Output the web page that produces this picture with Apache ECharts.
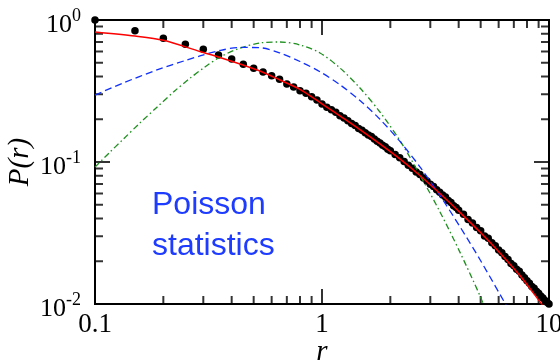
<!DOCTYPE html>
<html>
<head>
<meta charset="utf-8">
<script src="https://cdn.jsdelivr.net/npm/echarts@6/dist/echarts.min.js"></script>
</head>
<body style="margin:0">
<div id="chart" style="width:560px;height:361px"></div>
<script>
// measured points (dots)
const dotR = [0.1,0.15,0.2,0.25,0.3,0.35,0.4,0.45,0.5,0.55,0.6,0.65,0.7,0.75,0.8,0.85,0.9,0.95,1.0,1.05,
  1.1,1.15,1.2,1.25,1.3,1.35,1.4,1.45,1.5,1.55,1.6,1.65,1.7,1.75,1.8,1.85,1.9,1.95,2.0,
  2.1,2.2,2.3,2.4,2.5,2.6,2.7,2.8,2.9,3.0,3.1,3.2,3.3,3.4,3.5,3.6,3.7,3.8,3.9,4.0,
  4.2,4.4,4.6,4.8,5.0,5.2,5.4,5.6,5.8,6.0,6.2,6.4,6.6,6.8,7.0,7.2,7.4,7.6,7.8,8.0,
  8.2,8.4,8.6,8.8,9.0,9.2,9.4,9.6,9.8,10.0]
const dotP = [1.0,0.84,0.743,0.674,0.622,0.567,0.531,0.488,0.457,0.430,0.405,0.382,0.354,0.337,0.318,0.305,0.288,0.273,0.256,0.243,
  0.233,0.224,0.212,0.204,0.195,0.187,0.181,0.172,0.167,0.161,0.155,0.151,0.145,0.140,0.136,0.131,0.128,0.123,0.120,
  0.113,0.107,0.101,0.0948,0.0905,0.0851,0.0815,0.0770,0.0736,0.0698,0.0672,0.0638,0.0613,0.0585,0.0566,0.0536,0.0518,0.0492,0.0478,0.0458,
  0.0428,0.0394,0.0372,0.0346,0.0328,0.0301,0.0290,0.0270,0.0257,0.0240,0.0230,0.0216,0.0206,0.0193,0.0186,0.0176,0.0170,0.0160,0.0153,0.0146,
  0.0140,0.0133,0.0129,0.0123,0.0119,0.0114,0.0110,0.0106,0.0103,0.0100]

// fit (red solid)
const redR = [0.1,0.15,0.2,0.29,0.355,0.449,0.533,0.653,0.8,1.0,1.2,1.47,1.8,2.21,2.7,3.31,4.05,4.97,6.08,7.45,9.13,10]
const redP = [0.823,0.771,0.72,0.60,0.545,0.482,0.437,0.378,0.325,0.257,0.211,0.169,0.134,0.1047,0.0804,0.060,0.0442,0.0321,0.0229,0.01585,0.01035,0.00855]

// blue dashed
const blueR = [0.1,0.133,0.1875,0.254,0.29,0.355,0.435,0.533,0.653,0.8,0.98,1.2,1.47,1.8,2.21,2.7,3.31,4.05,4.97,6.08,6.68]
const blueP = [0.296,0.360,0.445,0.523,0.558,0.61,0.641,0.638,0.586,0.51,0.432,0.350,0.271,0.200,0.139,0.0925,0.0580,0.0351,0.0205,0.0117,0.0090]

// green dash-dot
const greenR = [0.1,0.116,0.133,0.158,0.1875,0.225,0.262,0.305,0.355,0.435,0.533,0.653,0.8,0.98,1.2,1.47,1.8,2.21,2.7,3.31,4.05,4.97,5.48]
const greenP = [0.092,0.1168,0.1445,0.1887,0.2433,0.3176,0.3889,0.4666,0.548,0.634,0.689,0.700,0.667,0.586,0.459,0.332,0.225,0.1406,0.081,0.0445,0.0232,0.01138,0.0077]

// ticks
const xTicks = [0.1, 1, 10]
const xTickLabels = ['0.1', '1', '10']
const yTicks = [0.01, 0.1, 1]
const yTickExp = ['-2', '-1', '0']
const xMinorTicks = [0.2,0.3,0.4,0.5,0.6,0.7,0.8,0.9,2,3,4,5,6,7,8,9]
const yMinorTicks = [0.02,0.03,0.04,0.05,0.06,0.07,0.08,0.09,0.2,0.3,0.4,0.5,0.6,0.7,0.8,0.9]

const X_MIN = 0.1, X_MAX = 10, Y_MIN = 0.01, Y_MAX = 1

const zip = (a, b) => a.map((v, i) => [v, b[i]])
const findTick = (ticks, v) => ticks.findIndex((t) => Math.abs(Math.log10(t) - Math.log10(v)) < 1e-6)

const chart = echarts.init(document.getElementById('chart'))

const serif = 'Liberation Serif'
const MAJOR = 15
const MINOR = 8
const TW = 2

// tick marks on the frame as thin rect markers
function tickSeries(points, size, offset) {
  return {
    type: 'scatter',
    data: points,
    symbol: 'rect',
    symbolSize: size,
    symbolOffset: offset,
    clip: false,
    itemStyle: { color: '#000' },
  }
}

const option = {
  animation: false,
  grid: {
    left: 95, right: 11, top: 20, bottom: 57, outerBoundsMode: 'none',
    show: true, borderColor: '#000', borderWidth: 2, backgroundColor: 'transparent',
  },
  xAxis: {
    type: 'log', min: X_MIN, max: X_MAX,
    axisLine: { show: true, lineStyle: { color: '#000', width: 2 } },
    axisTick: { show: false },
    splitLine: { show: false },
    name: 'r',
    nameLocation: 'middle',
    nameGap: 34,
    nameMoveOverlap: false,
    nameTextStyle: { fontFamily: serif, fontStyle: 'italic', fontSize: 29, color: '#000' },
    axisLabel: {
      margin: 7,
      fontFamily: serif, fontSize: 27, color: '#000',
      formatter: (v) => { const i = findTick(xTicks, v); return i < 0 ? '' : xTickLabels[i] },
    },
  },
  yAxis: {
    type: 'log', min: Y_MIN, max: Y_MAX,
    axisLine: { show: true, lineStyle: { color: '#000', width: 2 } },
    axisTick: { show: false },
    splitLine: { show: false },
    name: 'P(r)',
    nameLocation: 'middle',
    nameGap: 60,
    nameMoveOverlap: false,
    nameRotate: 90,
    nameTextStyle: { fontFamily: serif, fontStyle: 'italic', fontSize: 29, color: '#000' },
    axisLabel: {
      margin: 14,
      color: '#000',
      formatter: (v) => { const i = findTick(yTicks, v); return i < 0 ? '' : '{b|10}{s|' + yTickExp[i] + '}' },
      rich: {
        b: { fontFamily: serif, fontSize: 26, lineHeight: 26, padding: [5, 0, 0, 0], verticalAlign: 'top', color: '#000' },
        s: { fontFamily: serif, fontSize: 18, lineHeight: 12, padding: [0, 0, 0, 0], verticalAlign: 'top', color: '#000' },
      },
    },
  },
  graphic: [
    { type: 'text', left: 152, top: 189, style: { text: 'Poisson', font: '32px "Liberation Sans"', fill: '#1e3cff' } },
    { type: 'text', left: 152, top: 230, style: { text: 'statistics', font: '32px "Liberation Sans"', fill: '#1e3cff' } },
  ],
  series: [
    // minor ticks: bottom, top, left, right
    tickSeries(xMinorTicks.map((v) => [v, Y_MIN]), [TW, MINOR], [0, -MINOR / 2]),
    tickSeries(xMinorTicks.map((v) => [v, Y_MAX]), [TW, MINOR], [0, MINOR / 2]),
    tickSeries(yMinorTicks.map((v) => [X_MIN, v]), [MINOR, TW], [MINOR / 2, 0]),
    tickSeries(yMinorTicks.map((v) => [X_MAX, v]), [MINOR, TW], [-MINOR / 2, 0]),
    // major ticks
    tickSeries(xTicks.map((v) => [v, Y_MIN]), [TW, MAJOR], [0, -MAJOR / 2]),
    tickSeries(xTicks.map((v) => [v, Y_MAX]), [TW, MAJOR], [0, MAJOR / 2]),
    tickSeries(yTicks.map((v) => [X_MIN, v]), [MAJOR, TW], [MAJOR / 2, 0]),
    tickSeries(yTicks.map((v) => [X_MAX, v]), [MAJOR, TW], [-MAJOR / 2, 0]),
    {
      name: 'data',
      type: 'scatter',
      data: zip(dotR, dotP),
      symbol: 'circle',
      symbolSize: 7.5,
      clip: false,
      itemStyle: { color: '#000', opacity: 1 },
    },
    {
      name: 'green',
      type: 'line',
      data: zip(greenR, greenP),
      showSymbol: false,
      smooth: 0.3,
      lineStyle: { color: '#1f8f1f', width: 1.3, type: [6, 3, 1.5, 3] },
    },
    {
      name: 'blue',
      type: 'line',
      data: zip(blueR, blueP),
      showSymbol: false,
      smooth: 0.3,
      lineStyle: { color: '#1030ff', width: 1.3, type: [7, 4] },
    },
    {
      name: 'fit',
      type: 'line',
      data: zip(redR, redP),
      showSymbol: false,
      smooth: 0.3,
      lineStyle: { color: '#ff0000', width: 1.5 },
    },
  ],
}

chart.setOption(option)
</script>
</body>
</html>
